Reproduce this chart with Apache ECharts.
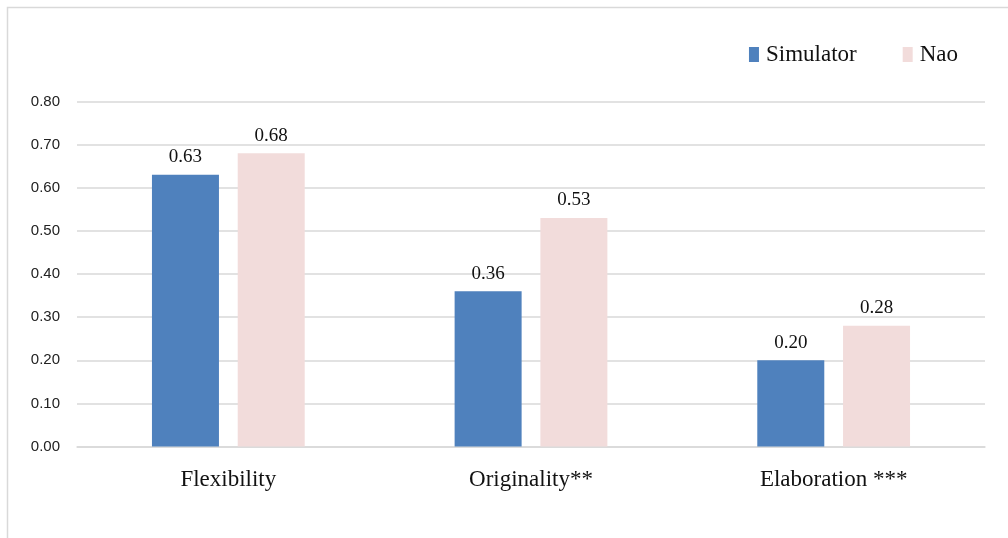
<!DOCTYPE html>
<html>
<head>
<meta charset="utf-8">
<script src="https://cdn.jsdelivr.net/npm/echarts@6/dist/echarts.min.js"></script>
<style>
  html, body { margin: 0; padding: 0; background: #ffffff; }
  #chart { width: 1008px; height: 538px; }
</style>
</head>
<body>
<div id="chart"></div>
<script>
// Creativity dimension scores by condition
const categories = ['Flexibility', 'Originality**', 'Elaboration ***'];
const simulatorValues = [0.63, 0.36, 0.20];
const naoValues = [0.68, 0.53, 0.28];
const seriesNames = ['Simulator', 'Nao'];

const serif = '"Liberation Serif", "Times New Roman", serif';
const sans = '"Liberation Sans", Arial, sans-serif';

const chart = echarts.init(document.getElementById('chart'));

const valueLabel = {
  show: true,
  position: 'top',
  distance: 8,
  fontFamily: serif,
  fontSize: 19,
  color: '#111111',
  formatter: p => p.value.toFixed(2)
};

chart.setOption({
  animation: false,
  backgroundColor: '#ffffff',
  graphic: [
    {
      type: 'polyline',
      shape: { points: [[7.5, 538], [7.5, 7.5], [1008, 7.5]] },
      style: { stroke: '#d9d9d9', lineWidth: 1.5, fill: null },
      silent: true
    }
  ],
  legend: {
    data: seriesNames,
    icon: 'rect',
    right: 45,
    top: 38,
    itemWidth: 10,
    itemHeight: 15,
    itemGap: 46,
    textStyle: { fontFamily: serif, fontSize: 23, color: '#111111', padding: [0, 0, 0, 2] }
  },
  grid: { left: 77, right: 23, top: 101.5, bottom: 91.5, containLabel: false },
  xAxis: {
    type: 'category',
    data: categories,
    axisLine: { show: true, lineStyle: { color: '#d9d9d9', width: 1.5 } },
    axisTick: { show: false },
    axisLabel: { fontFamily: serif, fontSize: 23, color: '#111111', margin: 22 }
  },
  yAxis: {
    type: 'value',
    min: 0,
    max: 0.8,
    interval: 0.1,
    axisLine: { show: false },
    axisTick: { show: false },
    splitLine: { lineStyle: { color: '#d9d9d9', width: 1.5 } },
    axisLabel: {
      fontFamily: sans,
      fontSize: 15,
      color: '#222222',
      margin: 17,
      formatter: v => v.toFixed(2)
    }
  },
  series: [
    {
      name: seriesNames[0],
      type: 'bar',
      data: simulatorValues,
      barWidth: 67,
      barGap: '28%',
      itemStyle: { color: '#4f81bd' },
      label: valueLabel
    },
    {
      name: seriesNames[1],
      type: 'bar',
      data: naoValues,
      barWidth: 67,
      itemStyle: { color: '#f2dcdb' },
      label: valueLabel
    }
  ]
});
</script>
</body>
</html>
